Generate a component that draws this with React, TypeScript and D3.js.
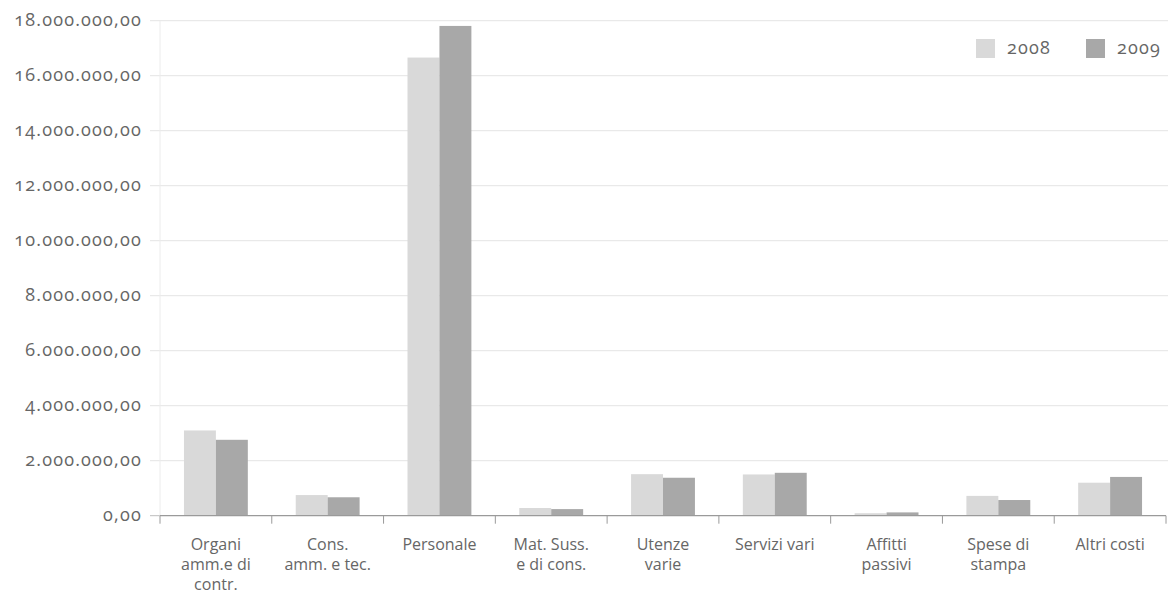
import React from "react";
import * as d3 from "d3";

// Cost categories (Italian labels, split into display lines)
const categories: string[][] = [
  ["Organi", "amm.e di", "contr."],
  ["Cons.", "amm. e tec."],
  ["Personale"],
  ["Mat. Suss.", "e di cons."],
  ["Utenze", "varie"],
  ["Servizi vari"],
  ["Affitti", "passivi"],
  ["Spese di", "stampa"],
  ["Altri costi"],
];

const years = ["2008", "2009"];

const values2008 = [3100000, 750000, 16660000, 280000, 1510000, 1500000, 90000, 720000, 1200000];
const values2009 = [2760000, 670000, 17810000, 240000, 1380000, 1560000, 120000, 570000, 1410000];

const yTicks = [0, 2000000, 4000000, 6000000, 8000000, 10000000, 12000000, 14000000, 16000000, 18000000];

const W = 1168;
const H = 601;
const left = 160;
const right = 1166;
const top = 20.7;
const bottom = 515.7;

const colors: Record<string, string> = { "2008": "#d9d9d9", "2009": "#a8a8a8" };
const textColor = "#666666";
const font = "'Open Sans', Lato, sans-serif";
const numStyle = { fontVariantNumeric: "oldstyle-nums", fontFeatureSettings: "'onum' 1" } as React.CSSProperties;

const it = d3.formatLocale({ decimal: ",", thousands: ".", grouping: [3], currency: ["", ""] });
const fmt = it.format(",.2f");

export default function App() {
  const keys = categories.map((c) => c.join(" "));
  const x = d3.scaleBand<string>().domain(keys).range([left, right]).padding(0);
  const x1 = d3.scaleBand<string>().domain(years).range([0, x.bandwidth()]).paddingInner(0).paddingOuter(0.75);
  const y = d3.scaleLinear().domain([0, 18000000]).range([bottom, top]);
  const series: Record<string, number[]> = { "2008": values2008, "2009": values2009 };

  return (
    <svg
      width={W}
      height={H}
      style={{ position: "absolute", left: 0, top: 0, background: "#fff" }}
      fontFamily={font}
    >
      {/* horizontal gridlines and y labels */}
      {yTicks.map((t) => (
        <g key={t}>
          {t > 0 && (
            <line x1={150} x2={W} y1={y(t)} y2={y(t)} stroke="#e4e4e4" strokeWidth={1} />
          )}
          {t === 0 && <line x1={150} x2={left} y1={y(t)} y2={y(t)} stroke="#bdbdbd" strokeWidth={1} />}
          <text
            x={142}
            y={y(t)}
            dy="0.3em"
            textAnchor="end"
            fontSize={18}
            fontWeight={400}
            fill={textColor}
            letterSpacing={1.2}
            style={numStyle}
          >
            {fmt(t)}
          </text>
        </g>
      ))}

      {/* light vertical axis */}
      <line x1={left} x2={left} y1={top} y2={bottom} stroke="#ececec" strokeWidth={1} />

      {/* bars */}
      {years.map((yr) =>
        series[yr].map((v, i) => (
          <rect
            key={yr + i}
            x={(x(keys[i]) as number) + (x1(yr) as number)}
            y={y(v)}
            width={x1.bandwidth()}
            height={bottom - y(v)}
            fill={colors[yr]}
          />
        ))
      )}

      {/* x axis baseline and ticks */}
      <line x1={left} x2={right} y1={bottom} y2={bottom} stroke="#9a9a9a" strokeWidth={1.2} />
      {d3.range(keys.length + 1).map((i) => {
        const xx = left + i * x.step();
        return <line key={i} x1={xx} x2={xx} y1={bottom} y2={bottom + 8} stroke="#9a9a9a" strokeWidth={1} />;
      })}

      {/* category labels, one text element per line */}
      {categories.map((lines, i) =>
        lines.map((l, j) => (
          <text
            key={i + "-" + j}
            x={(x(keys[i]) as number) + x.bandwidth() / 2}
            y={550 + j * 20}
            textAnchor="middle"
            fontSize={16}
            fontWeight={400}
            fill={textColor}
          >
            {l}
          </text>
        ))
      )}

      {/* legend */}
      {years.map((yr, i) => (
        <g key={yr} transform={`translate(${976 + i * 110},39)`}>
          <rect width={19} height={19} fill={colors[yr]} />
          <text
            x={31}
            y={9.5}
            dy="0.3em"
            fontSize={18}
            fontWeight={400}
            fill={textColor}
            letterSpacing={1.2}
            style={numStyle}
          >
            {yr}
          </text>
        </g>
      ))}
    </svg>
  );
}
